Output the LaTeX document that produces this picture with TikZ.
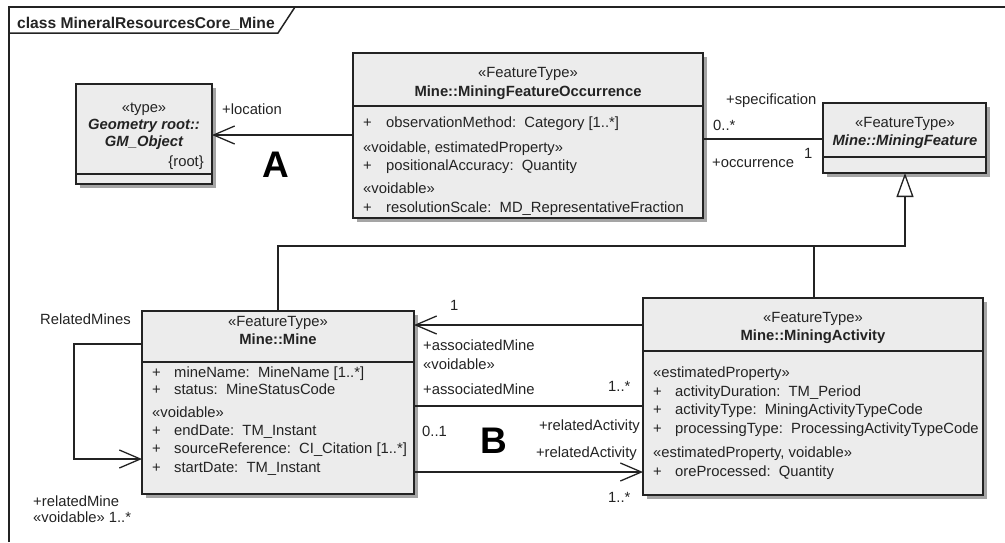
\documentclass[tikz,border=0pt]{standalone}
\usepackage{fontspec}
\setmainfont{Liberation Sans}
\usetikzlibrary{arrows.meta,shadows}
\definecolor{ink}{RGB}{35,35,35}
\definecolor{boxfill}{RGB}{236,236,236}
\definecolor{shade}{RGB}{165,165,165}
\newcommand\umlfont{\fontsize{14.8}{17}\selectfont}
\begin{document}
\begin{tikzpicture}[x=1pt,y=-1pt,
  cls/.style={draw=ink, line width=1.4pt, fill=boxfill, inner sep=0pt, outer sep=0pt,
    drop shadow={shadow xshift=4pt,shadow yshift=-4pt,fill=shade,opacity=1}},
  sep/.style={draw=ink, line width=1.4pt},
  conn/.style={draw=ink, line width=1.3pt},
  barb/.style={-{Straight Barb[length=21pt,width=18pt]}},
  txt/.style={inner sep=0pt, anchor=base west, text=ink, font=\umlfont},
  txtr/.style={txt, anchor=base east},
  hdr/.style={inner sep=0pt, anchor=base, text=ink, font=\umlfont},
  hdrb/.style={hdr, font=\umlfont\bfseries},
  hdrbi/.style={hdr, font=\umlfont\bfseries\itshape},
  big/.style={inner sep=0pt, anchor=base west, text=black, font=\fontsize{37}{40}\selectfont\bfseries}]
\useasboundingbox (0,0) rectangle (1005,542);

% diagram frame with its name tab
\draw[ink, line width=1.5pt] (9,542) -- (9,7) -- (1005,7);
\draw[ink, line width=1.5pt] (9,33) -- (278,33) -- (295,7);
\node[txt, font=\fontsize{15.6}{18}\selectfont\bfseries] (title) at (17,28) {class MineralResourcesCore\_Mine};

% GM_Object
\node[cls, minimum width=136pt, minimum height=100pt] (geo) at (144,134) {};
\draw[sep] (geo.west |- 0,174) -- (geo.east |- 0,174);
\node[hdr] (geo1) at (144,112) {«type»};
\node[hdrbi] (geo2) at (144,129) {Geometry root::};
\node[hdrbi] (geo3) at (144,146) {GM\_Object};
\node[txtr] (geo4) at (204,166) {\{root\}};

% MiningFeatureOccurrence
\node[cls, minimum width=350pt, minimum height=165pt] (mfo) at (528,135.5) {};
\draw[sep] (mfo.west |- 0,106) -- (mfo.east |- 0,106);
\node[hdr] (mfo1) at (528,77) {«FeatureType»};
\node[hdrb] (mfo2) at (528,96) {Mine::MiningFeatureOccurrence};
\node[txt] (mfo3p) at (363,127) {+};
\node[txt] (mfo3) at (386,127) {observationMethod:\ \ Category [1..*]};
\node[txt] (mfo4) at (363,152) {«voidable, estimatedProperty»};
\node[txt] (mfo5p) at (363,170) {+};
\node[txt] (mfo5) at (386,170) {positionalAccuracy:\ \ Quantity};
\node[txt] (mfo6) at (363,193) {«voidable»};
\node[txt] (mfo7p) at (363,212) {+};
\node[txt] (mfo7) at (386,212) {resolutionScale:\ \ MD\_RepresentativeFraction};

% MiningFeature
\node[cls, minimum width=163pt, minimum height=70pt] (mf) at (904.5,138) {};
\draw[sep] (mf.west |- 0,157) -- (mf.east |- 0,157);
\node[hdr] (mf1) at (905,127) {«FeatureType»};
\node[hdrbi] (mf2) at (905,145) {Mine::MiningFeature};

% Mine
\node[cls, minimum width=272pt, minimum height=183pt] (mine) at (278,402.5) {};
\draw[sep] (mine.west |- 0,362) -- (mine.east |- 0,362);
\node[hdr] (mine1) at (278,326) {«FeatureType»};
\node[hdrb] (mine2) at (278,344) {Mine::Mine};
\node[txt] (mine3p) at (152,377) {+};
\node[txt] (mine3) at (174,377) {mineName:\ \ MineName [1..*]};
\node[txt] (mine4p) at (152,394) {+};
\node[txt] (mine4) at (174,394) {status:\ \ MineStatusCode};
\node[txt] (mine5) at (152,417) {«voidable»};
\node[txt] (mine6p) at (152,435) {+};
\node[txt] (mine6) at (174,435) {endDate:\ \ TM\_Instant};
\node[txt] (mine7p) at (152,453) {+};
\node[txt] (mine7) at (174,453) {sourceReference:\ \ CI\_Citation [1..*]};
\node[txt] (mine8p) at (152,472) {+};
\node[txt] (mine8) at (174,472) {startDate:\ \ TM\_Instant};

% MiningActivity
\node[cls, minimum width=340pt, minimum height=197pt] (ma) at (813,396.5) {};
\draw[sep] (ma.west |- 0,351) -- (ma.east |- 0,351);
\node[hdr] (ma1) at (813,322) {«FeatureType»};
\node[hdrb] (ma2) at (813,340) {Mine::MiningActivity};
\node[txt] (ma3) at (653,377) {«estimatedProperty»};
\node[txt] (ma4p) at (653,396) {+};
\node[txt] (ma4) at (675,396) {activityDuration:\ \ TM\_Period};
\node[txt] (ma5p) at (653,414) {+};
\node[txt] (ma5) at (675,414) {activityType:\ \ MiningActivityTypeCode};
\node[txt] (ma6p) at (653,433) {+};
\node[txt] (ma6) at (675,433) {processingType:\ \ ProcessingActivityTypeCode};
\node[txt] (ma7) at (653,457) {«estimatedProperty, voidable»};
\node[txt] (ma8p) at (653,476) {+};
\node[txt] (ma8) at (675,476) {oreProcessed:\ \ Quantity};

% location association
\draw[conn, barb] (mfo.west |- 0,135) -- (geo.east |- 0,135);
\node[txt] (loc) at (222,114) {+location};
\node[big] (labA) at (262,177) {A};

% specification / occurrence association
\draw[conn] (mfo.east |- 0,139) -- (mf.west |- 0,139);
\node[txt] (spec) at (726,104) {+specification};
\node[txt] (specm) at (713,130) {0..*};
\node[txt] (occ) at (712,167) {+occurrence};
\node[txt] (occm) at (804,158) {1};

% generalisation to MiningFeature
\coordinate (gj) at (905,246);
\draw[conn, -{Triangle[open, length=24pt, width=17pt, fill=white]}]
  (mine.north -| 278,0) |- (gj) -- (mf.south -| gj);
\draw[conn] (ma.north -| 814,0) -- (814,246);

% RelatedMines self association
\draw[conn, barb] (mine.west |- 0,344) -| (74,459) -- (mine.west |- 0,459);
\node[txt] (rm) at (40,324) {RelatedMines};
\node[txt] (rm1) at (33,506) {+relatedMine};
\node[txt] (rm2) at (33,522) {«voidable» 1..*};

% associatedMine / relatedActivity associations
\draw[conn, barb] (ma.west |- 0,325) -- (mine.east |- 0,325);
\draw[conn] (mine.east |- 0,406) -- (ma.west |- 0,406);
\draw[conn, barb] (mine.east |- 0,472) -- (ma.west |- 0,472);
\node[txt] (am0) at (450,310) {1};
\node[txt] (am1) at (423,350) {+associatedMine};
\node[txt] (am2) at (423,369) {«voidable»};
\node[txt] (am3) at (423,394) {+associatedMine};
\node[txt] (am4) at (608,391) {1..*};
\node[txt] (ra0) at (422,436) {0..1};
\node[big] (labB) at (480,453) {B};
\node[txtr] (ra1) at (640,430) {+relatedActivity};
\node[txtr] (ra2) at (637,457) {+relatedActivity};
\node[txt] (ra3) at (608,502) {1..*};
\end{tikzpicture}
\end{document}
